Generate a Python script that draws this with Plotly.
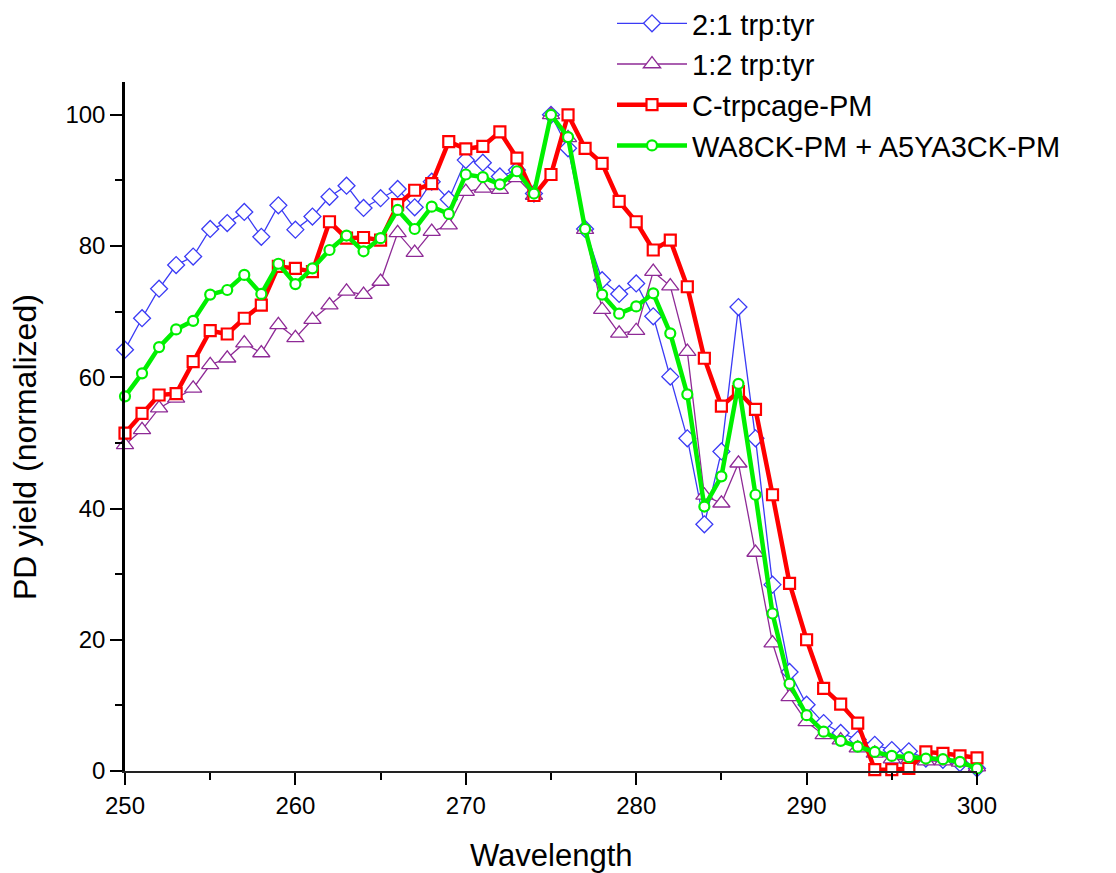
import plotly.graph_objects as go

wavelength = list(range(250, 301))

trp_tyr_2_1 = [64.2, 69.0, 73.5, 77.1, 78.4, 82.6, 83.5, 85.2, 81.4, 86.2,
               82.5, 84.5, 87.5, 89.2, 85.8, 87.3, 88.7, 85.9, 89.8, 87.1,
               93.1, 92.7, 90.6, 91.6, 88.0, 100.0, 94.9, 82.6, 74.8, 72.7,
               74.3, 69.3, 60.1, 50.7, 37.6, 48.7, 70.7, 50.7, 28.4, 15.1,
               10.1, 7.3, 5.8, 4.8, 4.0, 3.2, 3.0, 1.9, 1.7, 1.2, 0.4]

trp_tyr_1_2 = [49.7, 52.0, 55.3, 56.8, 58.3, 61.9, 62.9, 65.2, 63.7, 68.0,
               66.0, 68.8, 71.0, 73.1, 72.6, 74.6, 82.0, 79.0, 82.2, 83.2,
               88.3, 88.8, 88.6, 90.4, 87.7, 100.0, 96.5, 82.5, 70.3, 66.7,
               67.1, 76.1, 73.9, 63.9, 42.0, 40.8, 46.9, 33.3, 19.5, 11.3,
               7.5, 5.5, 4.7, 3.5, 2.7, 1.8, 1.7, 1.5, 1.5, 1.3, 0.6]

c_trpcage_pm = [51.5, 54.5, 57.3, 57.5, 62.4, 67.1, 66.6, 69.0, 71.0, 76.9,
                76.6, 76.1, 83.7, 81.2, 81.3, 80.9, 86.3, 88.5, 89.5, 95.9,
                94.8, 95.2, 97.4, 93.4, 87.7, 90.9, 100.0, 94.9, 92.6, 86.8,
                83.7, 79.4, 80.9, 73.8, 62.9, 55.6, 57.8, 55.1, 42.1, 28.6,
                20.0, 12.6, 10.2, 7.3, 0.2, 0.2, 0.4, 2.9, 2.7, 2.3, 2.0]

wa8ck_a5ya3ck = [57.1, 60.6, 64.6, 67.3, 68.6, 72.6, 73.3, 75.6, 72.7, 77.3,
                 74.2, 76.6, 79.4, 81.6, 79.2, 81.2, 85.5, 82.6, 86.0, 84.9,
                 90.9, 90.5, 89.4, 91.4, 88.0, 100.0, 96.6, 82.6, 72.6, 69.7,
                 70.8, 72.8, 66.7, 57.4, 40.3, 44.9, 59.0, 42.1, 24.0, 13.3,
                 8.5, 6.0, 4.6, 3.7, 2.9, 2.3, 2.1, 1.9, 1.8, 1.4, 0.4]

series_names = ["2:1 trp:tyr", "1:2 trp:tyr", "C-trpcage-PM", "WA8CK-PM + A5YA3CK-PM"]

FONT = "Liberation Sans, Arial, sans-serif"

fig = go.Figure()

styles = [
    (trp_tyr_2_1, "#3b3bf5", 1.3, "diamond", 13, 1.3),
    (trp_tyr_1_2, "#8e2a96", 1.3, "triangle-up", 15, 1.3),
    (c_trpcage_pm, "#ff0000", 4.5, "square", 11, 2.2),
    (wa8ck_a5ya3ck, "#00f000", 4.5, "circle", 10, 2.2),
]

for name, (vals, color, lw, sym, ms, mlw) in zip(series_names, styles):
    fig.add_trace(go.Scatter(
        x=wavelength, y=vals, name=name, mode="lines+markers",
        line=dict(color=color, width=lw),
        marker=dict(symbol=sym, size=ms, color="white",
                    line=dict(color=color, width=mlw)),
        cliponaxis=False,
    ))

fig.update_layout(
    width=1116, height=873,
    margin=dict(l=125, r=139, t=82, b=102, autoexpand=False),
    paper_bgcolor="white", plot_bgcolor="white",
    font=dict(family=FONT, color="black"),
    legend=dict(x=0.5716, y=1.122, xanchor="left", yanchor="top",
                font=dict(size=29, family=FONT), itemwidth=70,
                bgcolor="rgba(0,0,0,0)", tracegroupgap=0),
    xaxis=dict(range=[250, 300], dtick=10, tick0=250,
               showline=True, linecolor="#222", linewidth=1.5,
               ticks="outside", ticklen=12, tickwidth=2, tickcolor="black",
               tickfont=dict(size=24, family=FONT),
               minor=dict(dtick=5, ticks="outside", ticklen=7, tickwidth=2, tickcolor="black"),
               showgrid=False, zeroline=False),
    yaxis=dict(range=[0, 105], dtick=20, tick0=0,
               showline=True, linecolor="black", linewidth=2.5,
               ticks="outside", ticklen=12, tickwidth=2, tickcolor="black",
               tickfont=dict(size=24, family=FONT),
               minor=dict(dtick=10, ticks="outside", ticklen=7, tickwidth=2, tickcolor="black"),
               showgrid=False, zeroline=False),
    annotations=[
        dict(text="PD yield (normalized)", textangle=-90,
             xref="paper", yref="paper", x=(25 - 125) / 852, y=(771 - 447) / 689,
             xanchor="center", yanchor="middle", showarrow=False,
             font=dict(size=32, family=FONT)),
        dict(text="Wavelength",
             xref="paper", yref="paper", x=0.5, y=(771 - 855) / 689,
             xanchor="center", yanchor="middle", showarrow=False,
             font=dict(size=31, family=FONT)),
    ],
)

fig.write_html(
    "out.html",
    config={"displayModeBar": False},
    post_script="document.body.style.margin='0';document.body.style.overflow='hidden';",
)
